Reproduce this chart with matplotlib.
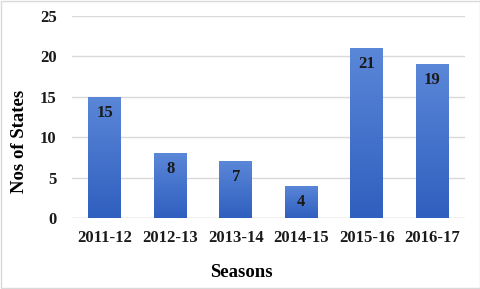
import numpy as np
import matplotlib.pyplot as plt
from matplotlib.colors import LinearSegmentedColormap

seasons = ['2011-12', '2012-13', '2013-14', '2014-15', '2015-16', '2016-17']
states = [15, 8, 7, 4, 21, 19]

plt.rcParams['font.family'] = 'Liberation Serif'
plt.rcParams['font.weight'] = 'bold'

fig = plt.figure(figsize=(4.81, 2.89), dpi=100)
ax = fig.add_axes([72 / 481, 71 / 289, 393 / 481, 202 / 289])

x = np.arange(len(seasons))
bars = ax.bar(x, states, width=0.5, color='#4472C4', zorder=2)

# gradient fill, lighter at the top
cmap = LinearSegmentedColormap.from_list('blu', ['#2F5FBF', '#5B87D8'])
grad = np.linspace(0, 1, 256).reshape(-1, 1)
for b in bars:
    b.set_facecolor('none')
    x0, y0 = b.get_x(), b.get_y()
    im = ax.imshow(grad, cmap=cmap, aspect='auto', origin='lower',
                   extent=[x0, x0 + b.get_width(), y0, y0 + b.get_height()], zorder=2)
    im.set_clip_path(b)

for xi, v in zip(x, states):
    ax.annotate(str(v), (xi, v), xytext=(0, -16), textcoords='offset pixels',
                ha='center', va='center', fontsize=12, fontweight='bold', color='#1a1a1a', zorder=3)

ax.set_xlim(-0.5, len(seasons) - 0.5)
ax.set_ylim(0, 25)
ax.set_yticks([0, 5, 10, 15, 20, 25])
ax.set_xticks(x)
ax.set_xticklabels(seasons)
ax.tick_params(axis='both', length=0, labelsize=12, colors='#1a1a1a')
ax.tick_params(axis='y', pad=11)
ax.tick_params(axis='x', pad=9)
ax.grid(axis='y', color='#d9d9d9', linewidth=1, zorder=0)
for s in ax.spines.values():
    s.set_visible(False)
ax.axhline(0, color='#d9d9d9', linewidth=1, zorder=1)

ax.set_ylabel('Nos of States', fontsize=13.5, fontweight='bold')
ax.yaxis.set_label_coords(-0.112, 0.38)
ax.set_xlabel('Seasons', fontsize=13.5, fontweight='bold')
ax.xaxis.set_label_coords(0.43, -0.228)

fig.patches.append(plt.Rectangle((0.002, 0.003), 0.996, 0.994, transform=fig.transFigure,
                                 fill=False, edgecolor='#d9d9d9', linewidth=1))

fig.savefig('out.png', dpi=100)
